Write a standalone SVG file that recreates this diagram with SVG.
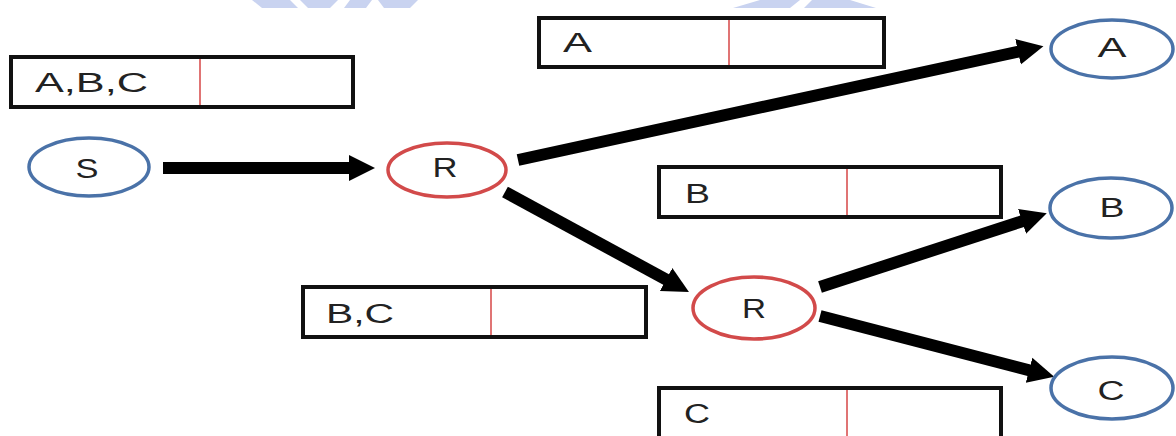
<svg xmlns="http://www.w3.org/2000/svg" width="1176" height="436" viewBox="0 0 1176 436">
  <style>
    .box { fill: #ffffff; stroke: #111111; stroke-width: 4; }
    .div { stroke: #e07474; stroke-width: 2; }
    .src { fill: #ffffff; stroke: #4a72a8; stroke-width: 3.5; }
    .rtr { fill: #ffffff; stroke: #d24a4a; stroke-width: 3.5; }
    .lbl { font-family: "Liberation Sans", Arial, sans-serif; font-size: 27px; fill: #222222; }
    .shaft { stroke: #000000; stroke-width: 12; fill: none; stroke-linecap: butt; }
    .mark { fill: #c9d3f0; }
  </style>
  <defs>
    <marker id="head" markerUnits="userSpaceOnUse" markerWidth="28" markerHeight="30" refX="1" refY="15" orient="auto">
      <polygon points="0,2 26,15 0,28" fill="#000000"/>
    </marker>
  </defs>

  <rect width="1176" height="436" fill="#ffffff"/>

  <!-- faint banner strokes along the top edge -->
  <g id="banner">
    <polygon class="mark" points="252,0 290,0 298,8 262,8"/>
    <polygon class="mark" points="300,0 338,0 330,8 308,8"/>
    <polygon class="mark" points="350,0 372,0 366,8 344,8"/>
    <polygon class="mark" points="378,0 418,0 410,8 384,8"/>
    <polygon class="mark" points="760,0 800,0 790,8 733,8"/>
    <polygon class="mark" points="812,0 850,0 876,8 804,8"/>
  </g>

  <!-- routing-table boxes -->
  <g id="table-abc">
    <rect class="box" x="11" y="57" width="342" height="50"/>
    <line class="div" x1="200" y1="59" x2="200" y2="105"/>
    <text class="lbl" x="35" y="92" textLength="113" lengthAdjust="spacingAndGlyphs">A,B,C</text>
  </g>
  <g id="table-a">
    <rect class="box" x="539" y="18" width="345" height="49"/>
    <line class="div" x1="729" y1="20" x2="729" y2="65"/>
    <text class="lbl" x="563" y="52" textLength="29" lengthAdjust="spacingAndGlyphs">A</text>
  </g>
  <g id="table-b">
    <rect class="box" x="659" y="167" width="342" height="50"/>
    <line class="div" x1="847" y1="169" x2="847" y2="215"/>
    <text class="lbl" x="685" y="203" textLength="25" lengthAdjust="spacingAndGlyphs">B</text>
  </g>
  <g id="table-bc">
    <rect class="box" x="303" y="287" width="343" height="50"/>
    <line class="div" x1="491" y1="289" x2="491" y2="335"/>
    <text class="lbl" x="326" y="323" textLength="68" lengthAdjust="spacingAndGlyphs">B,C</text>
  </g>
  <g id="table-c">
    <rect class="box" x="659" y="388" width="342" height="60"/>
    <line class="div" x1="847" y1="390" x2="847" y2="436"/>
    <text class="lbl" x="684" y="423" textLength="26" lengthAdjust="spacingAndGlyphs">C</text>
  </g>

  <!-- connectors -->
  <g id="connectors">
    <line class="shaft" x1="163" y1="168" x2="350" y2="168" marker-end="url(#head)"/>
    <line class="shaft" x1="518" y1="160" x2="1019" y2="51.5" marker-end="url(#head)"/>
    <line class="shaft" x1="505" y1="192" x2="667" y2="280" marker-end="url(#head)"/>
    <line class="shaft" x1="820" y1="287" x2="1023" y2="221" marker-end="url(#head)"/>
    <line class="shaft" x1="820" y1="316" x2="1030" y2="370.5" marker-end="url(#head)"/>
  </g>

  <!-- nodes -->
  <g id="node-s">
    <ellipse class="src" cx="89" cy="167" rx="60" ry="29"/>
    <text class="lbl" x="87" y="178" text-anchor="middle" textLength="23" lengthAdjust="spacingAndGlyphs">S</text>
  </g>
  <g id="node-r1">
    <ellipse class="rtr" cx="447" cy="170" rx="59" ry="27"/>
    <text class="lbl" x="445" y="177" text-anchor="middle" textLength="25" lengthAdjust="spacingAndGlyphs">R</text>
  </g>
  <g id="node-r2">
    <ellipse class="rtr" cx="754" cy="308" rx="61" ry="31"/>
    <text class="lbl" x="754" y="318" text-anchor="middle" textLength="24" lengthAdjust="spacingAndGlyphs">R</text>
  </g>
  <g id="node-a">
    <ellipse class="src" cx="1112" cy="49" rx="61" ry="29"/>
    <text class="lbl" x="1112" y="57" text-anchor="middle" textLength="29" lengthAdjust="spacingAndGlyphs">A</text>
  </g>
  <g id="node-b">
    <ellipse class="src" cx="1111" cy="208" rx="61" ry="30"/>
    <text class="lbl" x="1112" y="217" text-anchor="middle" textLength="25" lengthAdjust="spacingAndGlyphs">B</text>
  </g>
  <g id="node-c">
    <ellipse class="src" cx="1112" cy="388" rx="61" ry="31"/>
    <text class="lbl" x="1111" y="400" text-anchor="middle" textLength="27" lengthAdjust="spacingAndGlyphs">C</text>
  </g>
</svg>
